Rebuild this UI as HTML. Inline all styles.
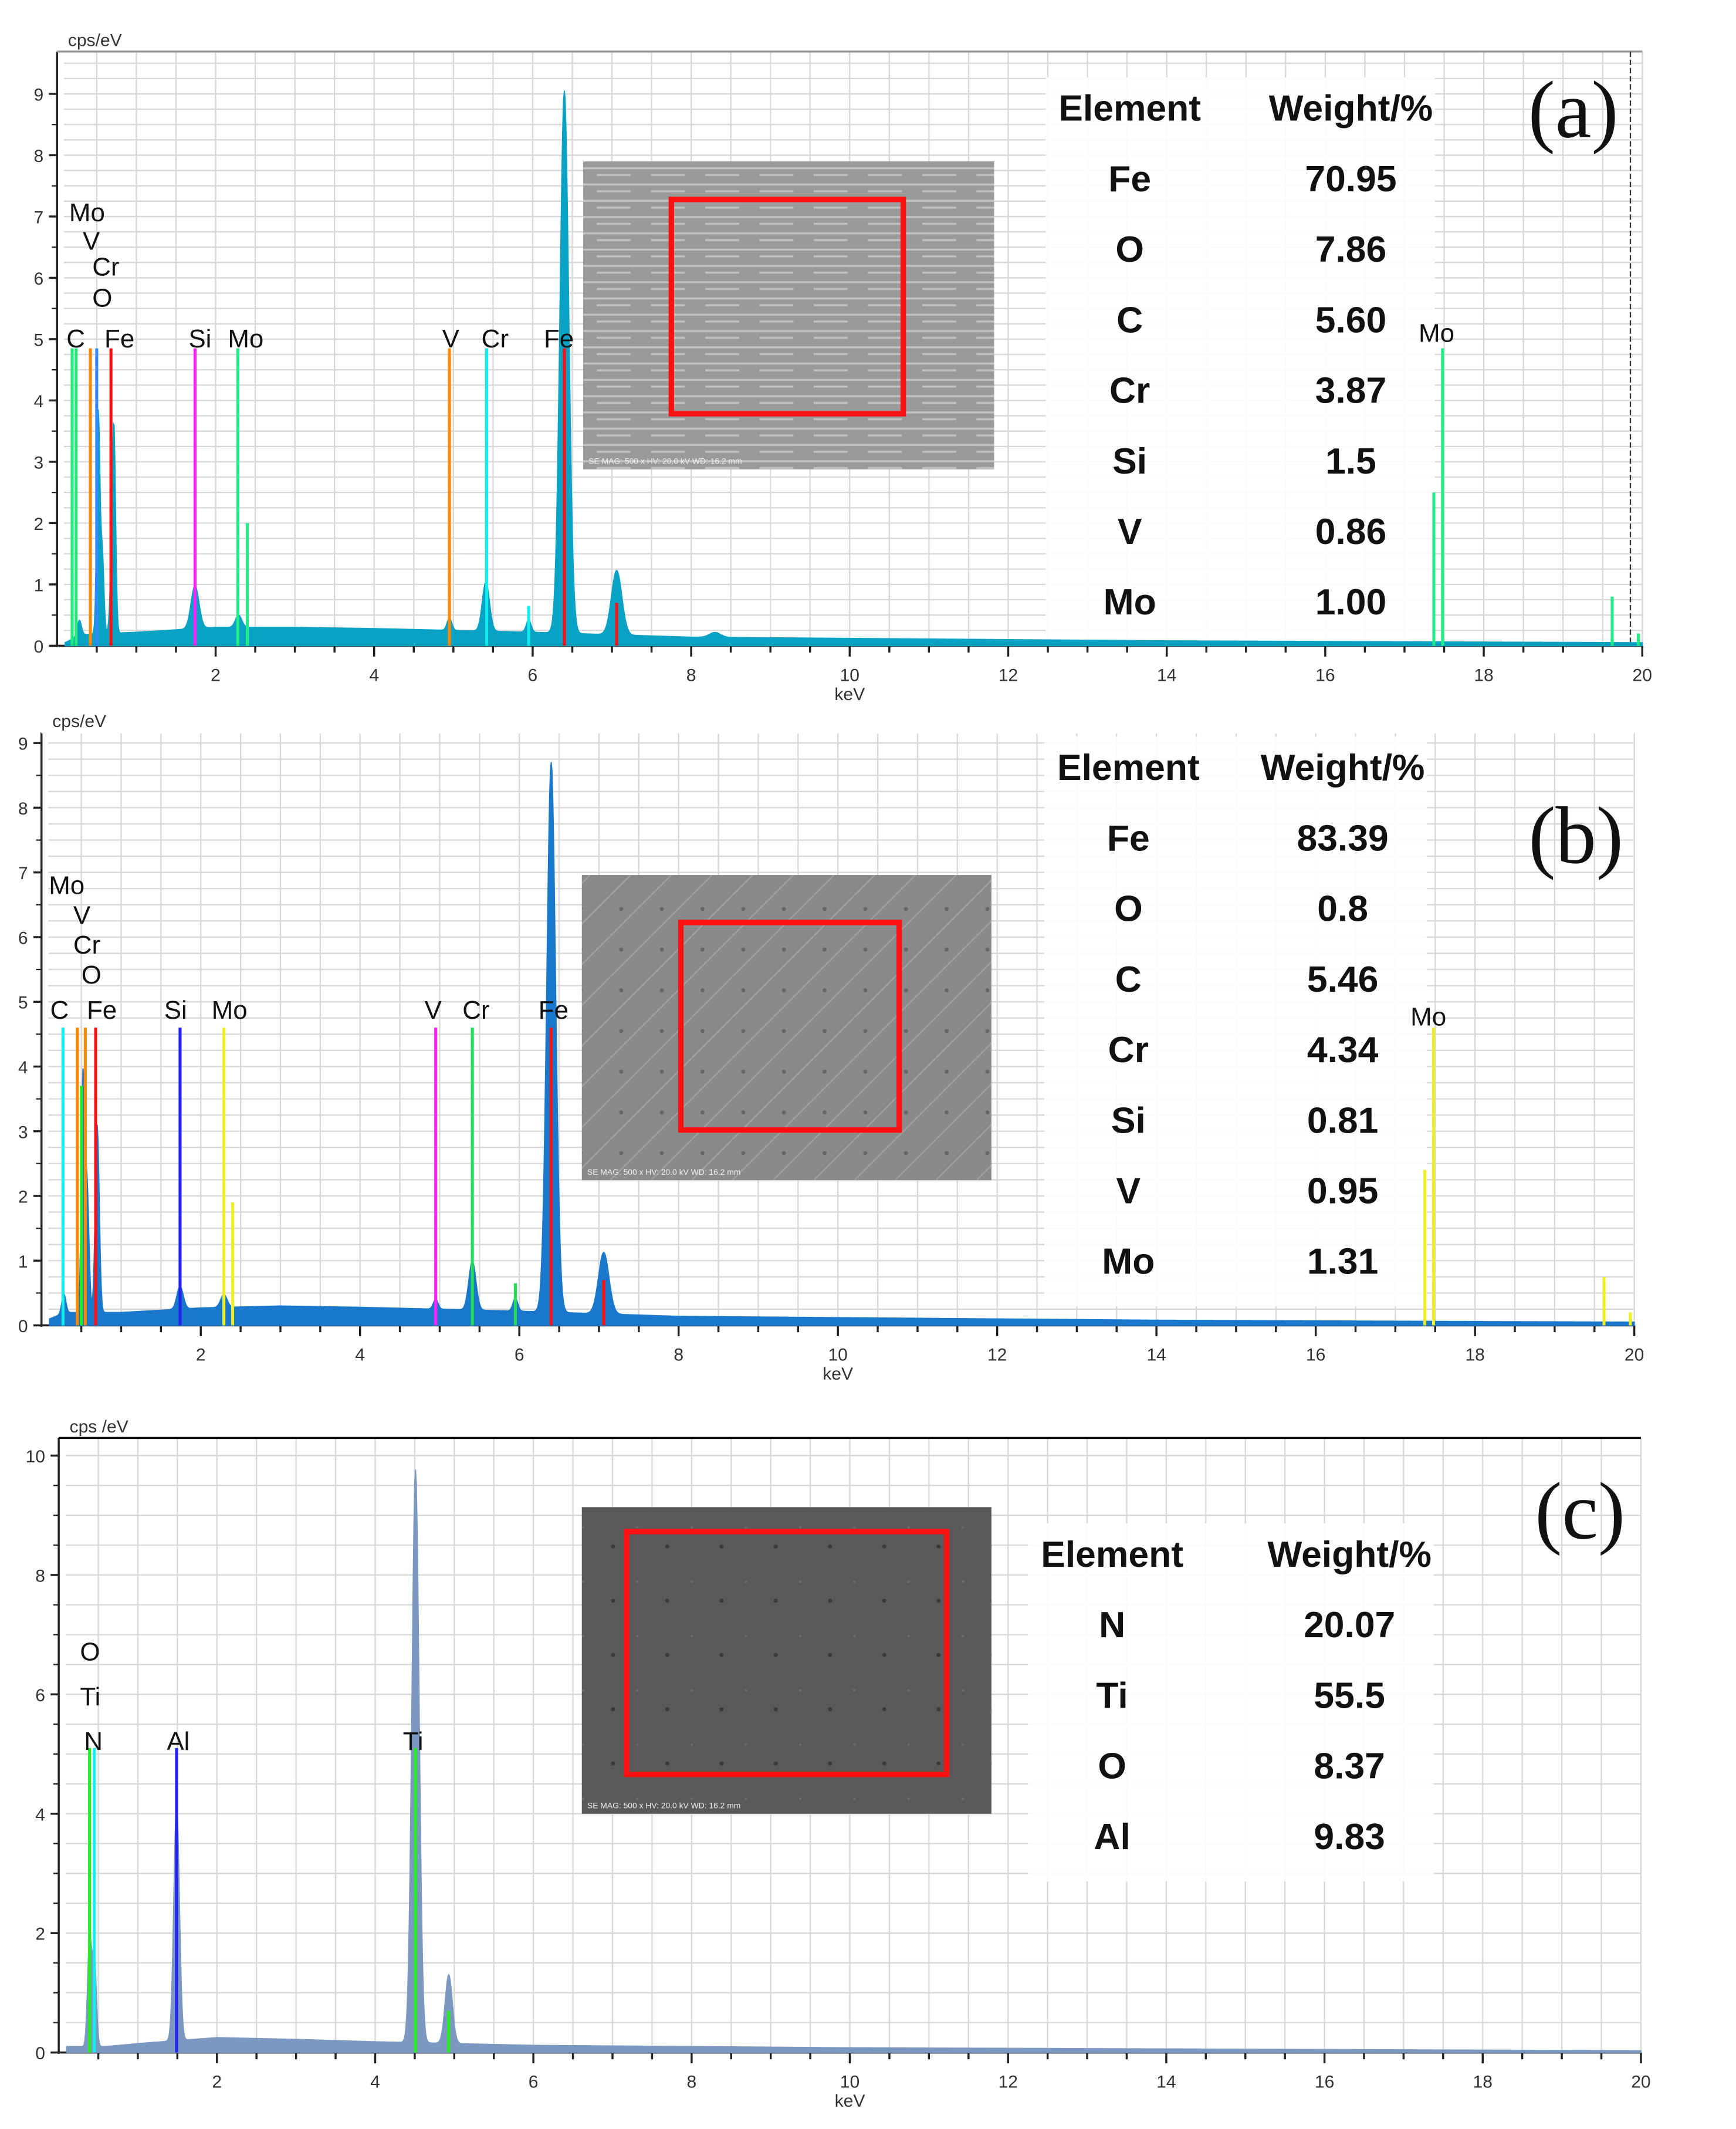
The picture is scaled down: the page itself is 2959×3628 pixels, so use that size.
<!DOCTYPE html>
<html><head><meta charset="utf-8">
<style>
html,body{margin:0;padding:0;background:#fff;}
svg{display:block;}
.lbl{font-family:"Liberation Sans",sans-serif;font-size:19px;fill:#111;}
.tk{font-family:"Liberation Sans",sans-serif;font-size:13px;fill:#333;}
.tb{font-family:"Liberation Sans",sans-serif;font-weight:bold;font-size:27px;fill:#111;text-anchor:middle;}
.pl{font-family:"Liberation Serif",serif;font-size:60px;fill:#111;text-anchor:middle;}
</style></head>
<body>
<svg id="fig" width="2959" height="3628" viewBox="0 0 1280 1569.4" preserveAspectRatio="none" xmlns="http://www.w3.org/2000/svg">
<defs>
<pattern id="semA" width="40" height="12" patternUnits="userSpaceOnUse"><rect width="40" height="12" fill="#9a9a9a"/><path d="M0 4 H40 M0 9 H25" stroke="#c0c0c0" stroke-width="1.5"/></pattern>
<pattern id="semB" width="30" height="30" patternUnits="userSpaceOnUse"><rect width="30" height="30" fill="#8a8a8a"/><path d="M0 30 L30 0" stroke="#a0a0a0" stroke-width="1"/><circle cx="8" cy="10" r="1.5" fill="#666"/></pattern>
<pattern id="semC" width="40" height="40" patternUnits="userSpaceOnUse"><rect width="40" height="40" fill="#595959"/><circle cx="12" cy="20" r="1.5" fill="#3a3a3a"/><circle cx="30" cy="6" r="1" fill="#6a6a6a"/></pattern>
</defs>
<g id="panels"></g>
</svg>
<script>
// ---------- Panel (a) data ----------
const aBgE = [0.1,0.3,0.6,1.0,2.0,3.0,4.0,5.0,6.0,7.0,8.0,10.0,12.0,14.0,16.0,18.0,20.0];
const aBgV = [0.05,0.18,0.2,0.22,0.3,0.3,0.28,0.25,0.22,0.18,0.14,0.12,0.1,0.08,0.07,0.06,0.05];
const aPkE = [0.28,0.52,0.57,0.70,0.72,1.74,2.29,4.95,5.41,5.95,6.40,7.06,8.3];
const aPkH = [0.25,3.6,1.3,1.5,2.3,0.7,0.2,0.2,0.8,0.2,8.85,1.05,0.08];
const aPkS = [0.025,0.02,0.02,0.025,0.02,0.05,0.04,0.03,0.045,0.03,0.055,0.065,0.07];
const aLnE = [0.19,0.24,0.42,0.50,0.68,1.74,2.28,2.40,4.95,5.42,5.95,6.40,7.06,17.37,17.48,19.62,19.95];
const aLnH = [4.85,4.85,4.85,4.85,4.85,4.85,4.85,2.0,4.85,4.85,0.65,4.85,0.7,2.5,4.85,0.8,0.2];
const aLnC = ['#22ee77','#22ee77','#ff8800','#3388ff','#ff1111','#ff22ff','#22ee88','#22ee88','#ff8800','#11eeee','#11eeee','#ff1111','#ff1111','#22ee88','#22ee88','#22ee88','#22ee88'];
const aTblEl = ['Fe','O','C','Cr','Si','V','Mo'];
const aTblW = ['70.95','7.86','5.60','3.87','1.5','0.86','1.00'];
// ---------- Panel (b) data ----------
const bBgE = [0.1,0.3,0.6,1.0,2.0,3.0,4.0,5.0,6.0,7.0,8.0,10.0,12.0,14.0,16.0,18.0,20.0];
const bBgV = [0.1,0.2,0.2,0.2,0.27,0.3,0.28,0.25,0.22,0.18,0.14,0.12,0.1,0.08,0.07,0.06,0.05];
const bPkE = [0.28,0.52,0.57,0.70,1.74,2.29,4.95,5.41,5.95,6.40,7.06];
const bPkH = [0.3,3.5,2.0,2.9,0.35,0.2,0.15,0.75,0.2,8.5,0.95];
const bPkS = [0.025,0.02,0.025,0.025,0.04,0.04,0.03,0.045,0.03,0.055,0.065];
const bLnE = [0.27,0.45,0.50,0.55,0.68,1.74,2.29,2.40,4.95,5.41,5.95,6.40,7.06,17.37,17.48,19.62,19.95];
const bLnH = [4.6,4.6,3.7,4.6,4.6,4.6,4.6,1.9,4.6,4.6,0.65,4.6,0.7,2.4,4.6,0.75,0.2];
const bLnC = ['#11eeee','#ff8800','#22ee22','#ff8800','#ff1111','#2222ee','#eeee22','#eeee22','#ff22ff','#22dd55','#22dd55','#ff1111','#ff1111','#eeee22','#eeee22','#eeee22','#eeee22'];
const bTblEl = ['Fe','O','C','Cr','Si','V','Mo'];
const bTblW = ['83.39','0.8','5.46','4.34','0.81','0.95','1.31'];
// ---------- Panel (c) data ----------
const cBgE = [0.1,0.3,0.6,1.0,2.0,3.0,4.0,5.0,6.0,8.0,10.0,12.0,14.0,16.0,18.0,20.0];
const cBgV = [0.1,0.1,0.1,0.15,0.25,0.22,0.18,0.15,0.12,0.1,0.08,0.07,0.06,0.05,0.04,0.03];
const cPkE = [0.39,0.45,1.49,4.51,4.93];
const cPkH = [1.8,1.5,4.0,9.6,1.15];
const cPkS = [0.025,0.025,0.035,0.045,0.045];
const cLnE = [0.39,0.45,1.49,4.51,4.93];
const cLnH = [5.1,5.1,5.1,5.1,0.7];
const cLnC = ['#22ee22','#11eeee','#2222ee','#22ee22','#22ee22'];
const cTblEl = ['N','Ti','O','Al'];
const cTblW = ['20.07','55.5','8.37','9.83'];

const NS='http://www.w3.org/2000/svg';
const root=document.getElementById('panels');
function mk(tag,attrs,parent,text){const e=document.createElementNS(NS,tag);for(const k in attrs)e.setAttribute(k,attrs[k]);if(text!==undefined)e.textContent=text;(parent||root).appendChild(e);return e;}
function interp(E,V,e){if(e<=E[0])return V[0];for(let i=1;i<E.length;i++){if(e<=E[i]){const t=(e-E[i-1])/(E[i]-E[i-1]);return V[i-1]+t*(V[i]-V[i-1]);}}return V[V.length-1];}

function panel(p){
  const g=mk('g',{});
  
  
  const X=e=>p.x0+e*p.kx, Y=v=>p.y0-v*p.ky;
  const yTop=p.top, xR=X(20);
  const grid=mk('g',{stroke:'#d8d8d8','stroke-width':1},g);
  
  
  for(let e=0.5;e<=20;e+=0.5) mk('line',{x1:X(e),x2:X(e),y1:yTop,y2:p.y0},grid);
  for(let v=p.hstep;Y(v)>yTop;v+=p.hstep) mk('line',{x1:p.x0+5,x2:xR,y1:Y(v),y2:Y(v)},grid);
  // table background (behind spectrum)
  const bgw=mk('rect',{x:p.tbl[0]-62,y:p.tbl[2]-32,width:p.tbl[1]-p.tbl[0]+124,height:p.tblEl.length*52+56,fill:'#fff',opacity:0.9},g);
  
  
  mk('line',{x1:p.x0,x2:p.x0,y1:yTop,y2:p.y0+1,stroke:'#222','stroke-width':1.5},g);
  mk('line',{x1:p.x0,x2:xR,y1:p.y0,y2:p.y0,stroke:'#222','stroke-width':1.5},g);
  mk('line',{x1:p.x0,x2:xR,y1:yTop,y2:yTop,stroke:p.topCol,'stroke-width':1.5},g);
  if(p.dash) mk('line',{x1:X(19.85),x2:X(19.85),y1:yTop,y2:p.y0,stroke:'#333','stroke-width':1,'stroke-dasharray':'4,2'},g);
  for(let e=0.5;e<=20;e+=0.5) mk('line',{x1:X(e),x2:X(e),y1:p.y0,y2:p.y0+(e%2===0?8:5),stroke:'#222','stroke-width':1.5},g);
  for(let e=2;e<=20;e+=2){const t=mk('text',{x:X(e),y:p.y0+26,'text-anchor':'middle',class:'tk'},g,String(e));}
  for(let v=0;v<=p.ymax;v+=p.ystep){mk('line',{x1:p.x0-6,x2:p.x0,y1:Y(v),y2:Y(v),stroke:'#222','stroke-width':1.5},g);const t=mk('text',{x:p.x0-10,y:Y(v)+5,'text-anchor':'end',class:'tk'},g,String(v));}
  for(let v=p.ystep/ p.minor;v<p.ymax;v+=p.ystep/p.minor) mk('line',{x1:p.x0-4,x2:p.x0,y1:Y(v),y2:Y(v),stroke:'#222','stroke-width':1},g);
  const yt=mk('text',{x:p.x0+8,y:yTop-4,class:'tk'},g,p.ylab);
  const xt=mk('text',{x:X(10),y:p.y0+40,'text-anchor':'middle',class:'tk'},g,'keV');
  let pts=[X(0.1)+','+p.y0];
  for(let e=0.1;e<=20.0001;e+=0.01){let v=interp(p.bgE,p.bgV,e);for(let i=0;i<p.pkE.length;i++){const d=e-p.pkE[i];v+=p.pkH[i]*Math.exp(-d*d/(2*p.pkS[i]*p.pkS[i]));}pts.push(X(e).toFixed(2)+','+Y(v).toFixed(2));}
  pts.push(X(20)+','+p.y0);
  const sp=mk('polygon',{points:pts.join(' '),fill:p.col,stroke:p.col,'stroke-width':0.8},g);
  
  
  for(let i=0;i<p.lnE.length;i++){const l=mk('line',{x1:X(p.lnE[i]),x2:X(p.lnE[i]),y1:p.y0,y2:Y(p.lnH[i]),stroke:p.lnC[i],'stroke-width':2.2},g);}
  for(const L of p.labels){const t=mk('text',{x:L[1],y:L[2],class:'lbl','font-size':L[3]||19},g,L[0]);}
  const im=mk('rect',{x:p.sem[0],y:p.sem[1],width:p.sem[2],height:p.sem[3],fill:p.semFill},g);
  
  
  const rb=mk('rect',{x:p.red[0],y:p.red[1],width:p.red[2],height:p.red[3],fill:'none',stroke:'#ff1010','stroke-width':4},g);
  
  
  mk('text',{x:p.sem[0]+4,y:p.sem[1]+p.sem[3]-4,'font-size':6,fill:'#eee','font-family':'Liberation Sans,sans-serif'},g,'SE MAG: 500 x HV: 20.0 kV WD: 16.2 mm');
  const tb=mk('g',{},g);
  
  
  mk('text',{x:p.tbl[0],y:p.tbl[2],class:'tb'},tb,'Element');
  mk('text',{x:p.tbl[1],y:p.tbl[2],class:'tb'},tb,'Weight/%');
  for(let i=0;i<p.tblEl.length;i++){const y=p.tbl[2]+52*(i+1);mk('text',{x:p.tbl[0],y:y,class:'tb'},tb,p.tblEl[i]);mk('text',{x:p.tbl[1],y:y,class:'tb'},tb,p.tblW[i]);}
  const pl=mk('text',{x:p.plab[0],y:p.plab[1],class:'pl'},g,p.plab[2]);
  
  
}

panel({name:'panel-a',x0:42.1,kx:58.44,y0:476,ky:45.2,top:38,ymax:9,ystep:1,minor:2,hstep:0.25,topCol:'#999',dash:true,ylab:'cps/eV',col:'#0aa2c4',
 bgE:aBgE,bgV:aBgV,pkE:aPkE,pkH:aPkH,pkS:aPkS,lnE:aLnE,lnH:aLnH,lnC:aLnC,tblEl:aTblEl,tblW:aTblW,
 labels:[['Mo',51,163],['V',61,184],['Cr',68,203],['O',68,226],['C',49,256],['Fe',77,256],['Si',139,256],['Mo',168,256],['V',326,256],['Cr',355,256],['Fe',401,256],['Mo',1046,252,17]],
 sem:[430,119,303,227],semFill:'url(#semA)',red:[495,147,171,158],tbl:[833,996,89],plab:[1160,101,'(a)']});
panel({name:'panel-b',x0:30.6,kx:58.72,y0:977,ky:47.7,top:540,ymax:9,ystep:1,minor:2,hstep:0.25,topCol:'#fff',dash:false,ylab:'cps/eV',col:'#1a78cc',
 bgE:bBgE,bgV:bBgV,pkE:bPkE,pkH:bPkH,pkS:bPkS,lnE:bLnE,lnH:bLnH,lnC:bLnC,tblEl:bTblEl,tblW:bTblW,
 labels:[['Mo',36,659],['V',54,681],['Cr',54,703],['O',60,725],['C',37,751],['Fe',64,751],['Si',121,751],['Mo',156,751],['V',313,751],['Cr',341,751],['Fe',397,751],['Mo',1040,756,17]],
 sem:[429,645,302,225],semFill:'url(#semB)',red:[502,680,161,153],tbl:[832,990,575],plab:[1162,636,'(b)']});
panel({name:'panel-c',x0:43.3,kx:58.33,y0:1513,ky:44,top:1060,ymax:10,ystep:2,minor:4,hstep:0.5,topCol:'#111',dash:false,ylab:'cps /eV',col:'#7a98c2',
 bgE:cBgE,bgV:cBgV,pkE:cPkE,pkH:cPkH,pkS:cPkS,lnE:cLnE,lnH:cLnH,lnC:cLnC,tblEl:cTblEl,tblW:cTblW,
 labels:[['O',59,1224],['Ti',59,1257],['N',62,1290],['Al',123,1290],['Ti',297,1290]],
 sem:[429,1111,302,226],semFill:'url(#semC)',red:[462,1129,236,179],tbl:[820,995,1155],plab:[1165,1134,'(c)']});
</script>
</body></html>
